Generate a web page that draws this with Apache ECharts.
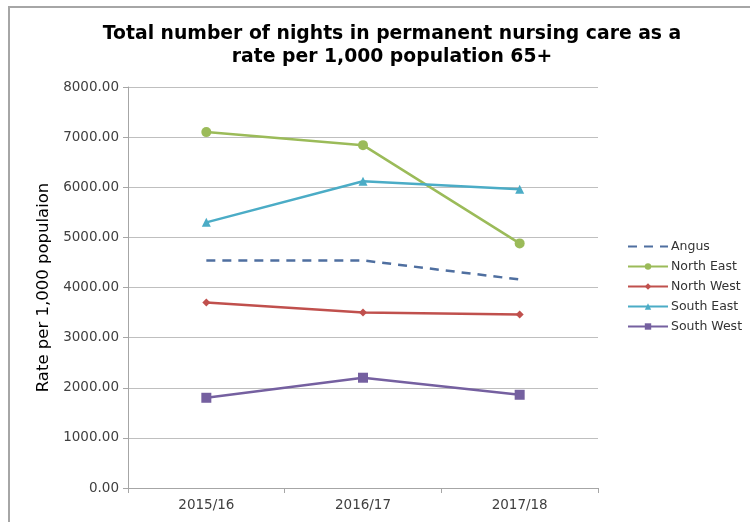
<!DOCTYPE html>
<html>
<head>
<meta charset="utf-8">
<script src="https://cdn.jsdelivr.net/npm/echarts@6/dist/echarts.min.js"></script>
<style>
    html, body { margin: 0; padding: 0; background: #fff; }
    #chart { width: 750px; height: 522px; }
</style>
</head>
<body>
<div id="chart"></div>
<script>
    // categories and values
    var years = ['2015/16', '2016/17', '2017/18'];
    var angus = [4540, 4540, 4160];
    var northEast = [7100, 6840, 4880];
    var northWest = [3700, 3500, 3460];
    var southEast = [5300, 6120, 5960];
    var southWest = [1800, 2200, 1860];

    var myChart = echarts.init(document.getElementById('chart'));
    var option = {
        backgroundColor: '#fff',
        animation: false,
        textStyle: { fontFamily: 'DejaVu Sans, sans-serif' },
        graphic: [{
            type: 'rect',
            shape: { x: 9, y: 7, width: 800, height: 600 },
            style: { fill: 'none', stroke: '#a6a6a6', lineWidth: 2 }
        }],
        title: {
            text: 'Total number of nights in permanent nursing care as a\nrate per 1,000 population 65+',
            left: 387,
            top: 18,
            textAlign: 'center',
            textStyle: { fontSize: 18.8, fontWeight: 'bold', color: '#000', lineHeight: 23 }
        },
        legend: {
            orient: 'vertical',
            left: 622,
            top: 235,
            itemWidth: 40,
            itemHeight: 8,
            itemGap: 7,
            textStyle: { fontSize: 12.5, color: '#333', padding: [0, 0, 0, -2] },
            data: [
                { name: 'Angus', itemStyle: { opacity: 0 } },
                'North East', 'North West', 'South East', 'South West'
            ]
        },
        grid: { left: 128, right: 152, top: 87, bottom: 34 },
        xAxis: {
            type: 'category',
            data: years,
            boundaryGap: true,
            axisLine: { lineStyle: { color: '#a6a6a6', width: 1 } },
            axisTick: { show: true, length: 5, lineStyle: { color: '#a6a6a6' } },
            axisLabel: { color: '#404040', fontSize: 13.5, margin: 10 }
        },
        yAxis: {
            type: 'value',
            min: 0,
            max: 8000,
            interval: 1000,
            name: 'Rate per 1,000 populaion',
            nameLocation: 'middle',
            nameGap: 76,
            nameTextStyle: { fontSize: 16.5, color: '#000' },
            axisLine: { show: true, lineStyle: { color: '#a6a6a6' } },
            axisTick: { show: true, length: 5, lineStyle: { color: '#a6a6a6' } },
            splitLine: { lineStyle: { color: '#bfbfbf', width: 1 } },
            axisLabel: {
                color: '#404040',
                fontSize: 13.5,
                margin: 9,
                formatter: function (v) { return v.toFixed(2); }
            }
        },
        series: [{
            name: 'Angus',
            type: 'line',
            data: angus,
            symbol: 'none',
            color: '#4f6fa0',
            lineStyle: { width: 2.5, type: [9, 7] }
        }, {
            name: 'North East',
            type: 'line',
            data: northEast,
            symbol: 'circle',
            symbolSize: 10,
            color: '#9bbb59',
            lineStyle: { width: 2.5 }
        }, {
            name: 'North West',
            type: 'line',
            data: northWest,
            symbol: 'diamond',
            symbolSize: 8,
            color: '#c0504d',
            lineStyle: { width: 2.5 }
        }, {
            name: 'South East',
            type: 'line',
            data: southEast,
            symbol: 'triangle',
            symbolSize: 9,
            color: '#4bacc6',
            lineStyle: { width: 2.5 }
        }, {
            name: 'South West',
            type: 'line',
            data: southWest,
            symbol: 'rect',
            symbolSize: 10,
            color: '#7560a0',
            lineStyle: { width: 2.5 }
        }]
    };
    myChart.setOption(option);
</script>
</body>
</html>
